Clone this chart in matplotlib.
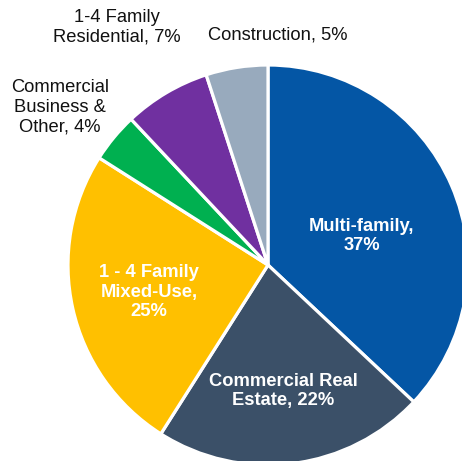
import matplotlib
matplotlib.use("Agg")
import matplotlib.pyplot as plt

# Loan portfolio composition
categories = [
    "Multi-family",
    "Commercial Real Estate",
    "1 - 4 Family Mixed-Use",
    "Commercial Business & Other",
    "1-4 Family Residential",
    "Construction",
]
shares = [37, 22, 25, 4, 7, 5]
label_texts = [
    "Multi-family,\n37%",
    "Commercial Real\nEstate, 22%",
    "1 - 4 Family\nMixed-Use,\n25%",
    "Commercial\nBusiness &\nOther, 4%",
    "1-4 Family\nResidential, 7%",
    "Construction, 5%",
]

colors = ["#0456A5", "#3B5068", "#FFC000", "#00B050", "#7030A0", "#98AABD"]
inside = [True, True, True, False, False, False]
# label centres in pixel coordinates (x, y from top)
label_pos = [(362, 236), (283, 391), (149, 292), (60, 107), (117, 27), (278, 35)]

W, H = 462, 461
plt.rcParams["font.family"] = ["Liberation Sans", "DejaVu Sans"]
fig = plt.figure(figsize=(W / 100, H / 100), dpi=100)
ax = fig.add_axes([0, 0, 1, 1])

cx, cy, r = 268, 265, 200
ax.pie(
    shares,
    colors=colors,
    startangle=90,
    counterclock=False,
    center=(cx, H - cy),
    radius=r,
    wedgeprops=dict(edgecolor="white", linewidth=2.3),
)
ax.set_xlim(0, W)
ax.set_ylim(0, H)
ax.set_aspect("equal")
ax.axis("off")

for text, (px, py), inner in zip(label_texts, label_pos, inside):
    ax.text(
        px, H - py, text,
        ha="center", va="center", multialignment="center",
        fontsize=13.2,
        fontweight="bold" if inner else "normal",
        color="white" if inner else "#111111",
        linespacing=1.22,
    )

fig.savefig("out.png", dpi=100)
